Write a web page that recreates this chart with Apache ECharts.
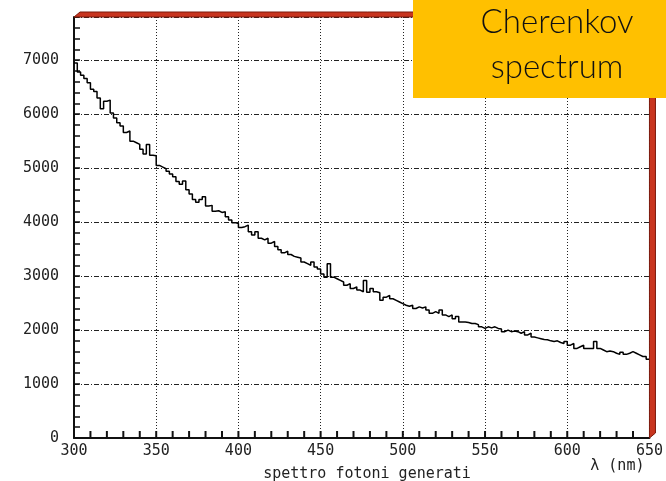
<!DOCTYPE html>
<html>
<head>
<meta charset="utf-8">
<script src="https://cdn.jsdelivr.net/npm/echarts@6/dist/echarts.min.js"></script>
<style>
html,body{margin:0;padding:0;background:#fff;}
#chart{width:666px;height:481px;}
</style>
</head>
<body>
<div id="chart"></div>
<script>
// Histogram: 2 nm bins starting at 300 nm
const binStart = 300;
const binWidth = 2;
const counts = [
  6950, 6780, 6720, 6660, 6580, 6460, 6420, 6300, 6100, 6240,
  6260, 6020, 5930, 5840, 5780, 5660, 5690, 5500, 5470, 5440,
  5350, 5260, 5440, 5240, 5230, 5050, 5020, 4990, 4940, 4890,
  4840, 4750, 4700, 4760, 4600, 4520, 4420, 4370, 4420, 4470,
  4300, 4310, 4200, 4210, 4180, 4190, 4100, 4040, 3990, 3975,
  3900, 3915, 3945, 3820, 3760, 3820, 3700, 3670, 3700, 3610,
  3640, 3550, 3490, 3430, 3460, 3400, 3365, 3350, 3335,
  3260, 3230, 3200, 3260, 3170, 3130, 3040, 2980, 3230, 2980,
  2950, 2920, 2890, 2830, 2860, 2770, 2800, 2740, 2710, 2920,
  2700, 2770, 2710, 2690, 2550, 2610, 2640, 2580, 2550, 2520,
  2490, 2460, 2440, 2460, 2400, 2430,
  2410, 2430, 2370, 2310, 2340, 2310, 2370, 2280, 2250, 2280,
  2210, 2250, 2150, 2150, 2140, 2120, 2120, 2100, 2060, 2030,
  2060, 2040, 2060, 2030, 2020, 1970, 2000, 1970, 1980, 1970,
  1940, 1970, 1910, 1940,
  1870, 1855, 1840, 1825, 1820, 1800, 1790, 1800, 1770, 1750,
  1790, 1720, 1750, 1660, 1690, 1720, 1660, 1660, 1660, 1790,
  1660, 1630, 1600, 1610, 1600, 1570, 1550, 1590, 1550, 1570,
  1600, 1570, 1540, 1510, 1510, 1460
];
const xMin = 300, xMax = 650, xStep = 50, xMinorStep = 10;
const yMin = 0, yMax = 7800, yStep = 1000, yMinorStep = 200;
const xAxisName = 'λ (nm)';
const bottomTitle = 'spettro fotoni generati';
const boxText = 'Cherenkov\nspectrum';

const stepData = counts.map((c, i) => [binStart + i * binWidth, c]);
stepData.push([binStart + counts.length * binWidth, counts[counts.length - 1]]);

// positions of the inward x tick marks (every 10 nm) along the bottom axis
const xTickMarks = [];
for (let v = xMin + xMinorStep; v < xMax; v += xMinorStep) xTickMarks.push([v, yMin]);

const monoFont = '"DejaVu Sans Mono", "Liberation Mono", monospace';
const chart = echarts.init(document.getElementById('chart'), null, {renderer: 'canvas'});

const gridDash = [5, 2, 1, 2];
chart.setOption({
  animation: false,
  backgroundColor: '#ffffff',
  grid: {left: 74, right: 16, top: 17, bottom: 43, containLabel: false},
  title: {
    text: bottomTitle,
    left: 362, textAlign: 'center', top: 462,
    textStyle: {fontFamily: monoFont, fontSize: 15, fontWeight: 'normal', color: '#222'}
  },
  xAxis: [{
    type: 'value', min: xMin, max: xMax, interval: xStep,
    name: xAxisName, nameLocation: 'end', nameGap: -5,
    nameTextStyle: {fontFamily: monoFont, fontSize: 15, color: '#222', align: 'right', verticalAlign: 'top', padding: [21, 0, 0, 0]},
    axisLine: {show: true, onZero: false, lineStyle: {color: '#111', width: 2}},
    axisTick: {show: false},
    axisLabel: {fontFamily: monoFont, fontSize: 15, color: '#222', margin: 6},
    splitLine: {show: true, lineStyle: {color: '#222', width: 1, type: [1, 2]}}
  }],
  yAxis: [{
    type: 'value', min: yMin, max: yMax, interval: yStep,
    axisLine: {show: true, lineStyle: {color: '#111', width: 2}},
    axisTick: {show: false},
    axisLabel: {fontFamily: monoFont, fontSize: 15, color: '#222', margin: 15, showMaxLabel: false,
                formatter: v => String(v)},
    splitLine: {show: true, lineStyle: {color: '#222', width: 1, type: gridDash}}
  }, {
    type: 'value', min: yMin, max: yMax, interval: yMinorStep, position: 'left',
    axisLine: {show: false},
    axisTick: {show: true, inside: true, length: 6, lineStyle: {color: '#111', width: 1.5}},
    axisLabel: {show: false},
    splitLine: {show: false}
  }],
  series: [{
    type: 'line', step: 'end', data: stepData, showSymbol: false, symbol: 'none',
    xAxisIndex: 0, yAxisIndex: 0,
    lineStyle: {color: '#000', width: 1.5}, z: 5
  }, {
    type: 'scatter', xAxisIndex: 0, yAxisIndex: 0, silent: true, clip: false, z: 7,
    data: xTickMarks,
    symbol: 'rect', symbolSize: [2, 7], symbolOffset: [0, -3.5],
    itemStyle: {color: '#111', opacity: 1},
    emphasis: {disabled: true}
  }]
});

// decorative 3D-like red frame (top and right) and orange label box
const finder = {xAxisIndex: 0, yAxisIndex: 0};
const p00 = chart.convertToPixel(finder, [xMin, yMin]);
const p11 = chart.convertToPixel(finder, [xMax, yMax]);
const dx = 6, dy = -5;
const red = '#c8351f', redEdge = '#7d1a0c';
chart.setOption({
  graphic: [
    {type: 'polygon', z: 10, shape: {points: [[p00[0], p11[1]], [p11[0], p11[1]], [p11[0] + dx, p11[1] + dy], [p00[0] + dx, p11[1] + dy]]},
     style: {fill: red, stroke: redEdge, lineWidth: 1}},
    {type: 'polygon', z: 10, shape: {points: [[p11[0], p11[1]], [p11[0] + dx, p11[1] + dy], [p11[0] + dx, p00[1] + dy], [p11[0], p00[1]]]},
     style: {fill: red, stroke: redEdge, lineWidth: 1}},
    {type: 'rect', z: 20, shape: {x: 413, y: 0, width: 253, height: 98}, style: {fill: '#ffc000'}},
    {type: 'text', z: 21, x: 557, y: 0,
     style: {text: boxText, fill: '#111', font: '300 33px Lato, "Open Sans", sans-serif', align: 'center', verticalAlign: 'top', lineHeight: 45}}
  ]
});
</script>
</body>
</html>
